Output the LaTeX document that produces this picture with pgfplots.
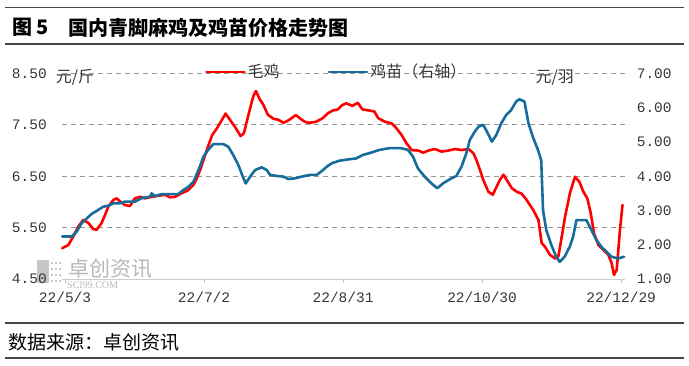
\documentclass[border=0pt]{standalone}
\usepackage{fontspec}
\setmainfont{Liberation Serif}
\newfontfamily\cjk{Noto Sans CJK SC}
\newfontfamily\numf{Liberation Mono}
\usepackage{pgfplots}
\pgfplotsset{compat=1.18}
\definecolor{cred}{RGB}{255,0,0}
\definecolor{cblue}{RGB}{22,108,155}
\definecolor{tickc}{RGB}{55,55,55}
\definecolor{gridc}{RGB}{150,150,150}
\definecolor{rulec}{RGB}{70,70,70}

\pgfplotstableread{
d v
-1.2 5.10
1.4 5.16
3.6 5.33
5.7 5.52
7.9 5.65
10.1 5.59
12.2 5.47
13.7 5.46
15.8 5.59
17.3 5.75
18.7 5.91
20.9 6.04
22.3 6.07
23.7 6.01
25.9 5.94
28 5.92
30.2 6.07
32.4 6.10
34.5 6.07
37.4 6.10
40.3 6.12
43.2 6.14
45.3 6.09
47.5 6.10
50.4 6.17
53.2 6.23
55.4 6.33
56.8 6.45
58.3 6.62
60 6.85
61.5 7.05
63.5 7.30
65.5 7.43
67.5 7.58
69.3 7.72
71.2 7.60
73.5 7.45
75.8 7.28
77.2 7.34
79.2 7.70
81.2 8.05
82.4 8.16
84 8.00
85.5 7.90
87.5 7.70
89.9 7.62
92 7.60
94.4 7.54
96.8 7.60
99.6 7.69
101.6 7.62
103.5 7.56
105.4 7.54
108.3 7.56
111.2 7.63
113.3 7.72
115.5 7.78
117.7 7.80
119.5 7.88
121.3 7.92
124.1 7.87
126.3 7.93
128.4 7.80
131.3 7.78
133.5 7.76
135.2 7.63
138.1 7.56
141 7.53
143.1 7.43
145.3 7.30
147.4 7.14
149.6 7.01
152.5 7.00
154.6 6.96
156.8 7.00
159.6 7.03
162.5 6.98
165.4 7.00
168.3 7.03
171.2 7.01
174.1 7.03
176.2 6.95
177.7 6.80
179.1 6.62
180.5 6.43
182.7 6.20
184.6 6.14
186.3 6.30
187.7 6.43
189.2 6.53
190.6 6.43
192.8 6.27
194.9 6.20
197.1 6.16
199.2 6.04
202.1 5.84
204.3 5.65
205.7 5.20
207.1 5.13
209.3 4.97
211.5 4.90
212.9 4.94
214.4 5.33
215.8 5.71
217.9 6.17
220.1 6.49
222 6.39
223.7 6.20
225.4 6.07
226.9 5.78
228.3 5.39
230.2 5.16
232.3 5.07
234.5 4.97
235.9 4.81
236.9 4.58
238.1 4.68
239.5 5.46
240.6 5.94
}\maoji

\pgfplotstableread{
d v
-1.2 2.24
2.9 2.24
5 2.38
7.2 2.63
9.4 2.77
11.5 2.90
13.7 2.99
16.5 3.11
18.7 3.14
20.9 3.21
23.7 3.21
25.9 3.26
30.2 3.26
33.1 3.36
36.7 3.40
37.4 3.50
38.8 3.42
41.7 3.48
46 3.48
48.9 3.48
51.1 3.60
53.2 3.69
55.4 3.84
56.8 4.05
58.3 4.30
59.7 4.57
61.8 4.77
64 4.94
68.3 4.94
70.5 4.86
72.6 4.62
74.8 4.33
76.7 3.99
78 3.79
79.9 3.99
82 4.18
84.9 4.26
87.1 4.18
88.5 4.04
91.4 4.01
94.2 3.99
96.4 3.92
99.3 3.94
102.2 3.99
105.7 4.04
108.6 4.04
110.8 4.15
113 4.28
115.1 4.38
118.2 4.45
122 4.49
125.6 4.52
128.5 4.62
132.1 4.69
135.7 4.77
140 4.82
145.1 4.82
148 4.77
150.2 4.57
152.3 4.23
155.2 3.99
158.1 3.79
160.7 3.65
163.1 3.79
166 3.91
168.9 4.01
171.1 4.28
173.2 4.67
174.7 5.06
176.8 5.30
178.5 5.45
180.5 5.50
182.5 5.25
184.2 5.01
186.1 5.20
188.3 5.55
190.4 5.79
192.5 5.93
194.7 6.18
196.1 6.25
198.3 6.18
200 5.55
201.9 5.15
204.1 4.77
205.5 4.47
206.3 3.01
207.7 2.43
209.9 1.99
212 1.65
213.5 1.50
215.6 1.65
217.8 1.94
219.3 2.24
220.7 2.72
225 2.72
227.2 2.43
229.3 2.14
231.5 1.94
233.6 1.80
235.8 1.65
238.7 1.60
241.3 1.65
}\jimiao

\begin{document}
\begin{tikzpicture}
\path[use as bounding box] (0pt,0pt) rectangle (689pt,365pt);
% title and source rules
\draw[rulec, line width=1.3pt] (5pt,357.5pt) -- (684pt,357.5pt);
\draw[rulec, line width=1.6pt] (5pt,321pt) -- (684pt,321pt);
\draw[rulec, line width=1.6pt] (5pt,42pt) -- (684pt,42pt);
\draw[rulec, line width=1.3pt] (5pt,7pt) -- (684pt,7pt);
\node[anchor=west, inner sep=0pt, font=\cjk\bfseries\fontsize{20}{20}\selectfont] at (12pt,337.5pt) {图 5};
\node[anchor=west, inner sep=0pt, font=\cjk\bfseries\fontsize{20}{20}\selectfont] at (68pt,337.5pt) {国内青脚麻鸡及鸡苗价格走势图};
\node[anchor=west, inner sep=0pt, font=\cjk\fontsize{19}{19}\selectfont] at (8pt,23pt) {数据来源：卓创资讯};
% watermark
\fill[black!22] (37pt,82pt) rectangle (49pt,105pt);
\foreach \i in {0,1,2} {\foreach \j in {0,1,2,3} {\fill[black!22] (51pt+\i*4pt,83pt+\j*6pt) rectangle (53pt+\i*4pt,85pt+\j*6pt);}}
\node[anchor=west, inner sep=0pt, text=black!28, font=\cjk\fontsize{21}{21}\selectfont] at (68pt,96pt) {卓创资讯};
\node[anchor=west, inner sep=0pt, text=black!28, font=\fontsize{10}{10}\selectfont] at (67pt,80pt) {SCI99.COM};

\begin{axis}[
  at={(62pt,86pt)}, anchor=south west, scale only axis,
  width=562.6pt, height=205.5pt,
  xmin=-1.3, xmax=241.5, ymin=4.5, ymax=8.5,
  clip=false,
  axis x line*=bottom, axis y line*=left,
  x axis line style={draw=black!20, line width=1pt, -},
  y axis line style={draw=none},
  xtick={0,60,120,180,240},
  xticklabels={22/5/3,22/7/2,22/8/31,22/10/30,22/12/29},
  ytick={5.5,6.5,7.5,8.5},
  extra y ticks={4.5}, extra y tick style={grid=none},
  ymajorgrids,
  grid style={draw=gridc, line width=1.2pt, dash pattern=on 5pt off 4pt},
  major y tick style={draw=none},
  major x tick style={draw=black!25, line width=0.8pt},
  tick align=outside, major tick length=4pt,
  /pgf/number format/assume math mode=true,
  /pgf/number format/.cd, fixed, fixed zerofill, precision=2, /pgfplots/.cd,
  tick label style={font=\numf\fontsize{14.5}{14.5}\selectfont, text=tickc, inner sep=0pt},
  yticklabel style={anchor=east, xshift=-11pt},
  xticklabel style={anchor=north, yshift=-9pt},
]
\addplot[cred, line width=2.6pt, line join=round, line cap=round] table[x=d, y=v] {\maoji};
\node[anchor=west, inner sep=0pt, font=\cjk\fontsize{16}{16}\selectfont, text=tickc] at (axis cs:-4,8.43) {元/斤};
\node[anchor=west, inner sep=0pt, font=\cjk\fontsize{16}{16}\selectfont, text=tickc] at (axis cs:203,8.43) {元/羽};
\end{axis}

\begin{axis}[
  at={(62pt,86pt)}, anchor=south west, scale only axis,
  width=562.6pt, height=205.5pt,
  xmin=-1.3, xmax=241.5, ymin=1, ymax=7,
  clip=false,
  axis x line=none, axis y line*=right,
  y axis line style={draw=none},
  ytick={1,2,3,4,5,6,7},
  major y tick style={draw=none},
  /pgf/number format/assume math mode=true,
  /pgf/number format/.cd, fixed, fixed zerofill, precision=2, /pgfplots/.cd,
  tick label style={font=\numf\fontsize{14.5}{14.5}\selectfont, text=tickc, inner sep=0pt},
  yticklabel style={anchor=west, xshift=12pt},
  legend style={at={(0.254,1.008)}, anchor=west, draw=none, fill=none,
    inner sep=0pt, font=\cjk\fontsize{16}{16}\selectfont, text=tickc,
    legend columns=2, /tikz/every even column/.append style={column sep=46pt},
    nodes={inner sep=2pt}},
  legend cell align=left,
  legend image code/.code={\draw[#1] (0pt,0pt) -- (38pt,0pt);},
]
\addlegendimage{cred, line width=2.6pt, line cap=round}
\addlegendentry{毛鸡}
\addplot[cblue, line width=2.6pt, line join=round, line cap=round] table[x=d, y=v] {\jimiao};
\addlegendentry{鸡苗（右轴）}
\end{axis}
\end{tikzpicture}
\end{document}
